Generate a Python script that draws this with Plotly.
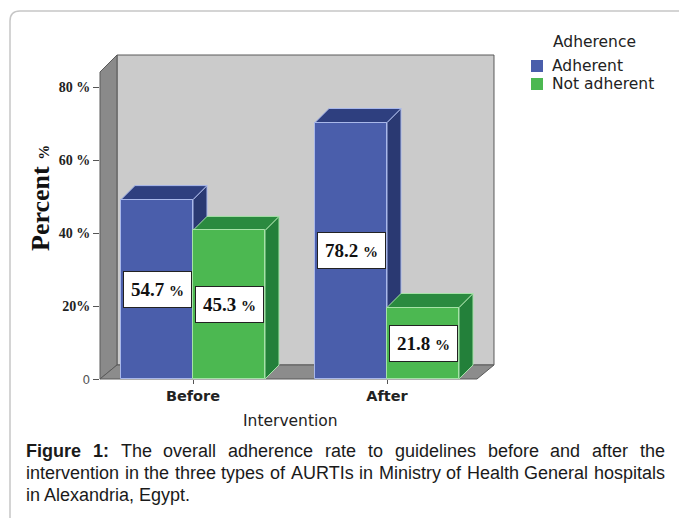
import plotly.graph_objects as go

# ---------------- data ----------------
categories = ["Before", "After"]
adherent = [54.7, 78.2]
not_adherent = [45.3, 21.8]
series_names = ["Adherent", "Not adherent"]
legend_title = "Adherence"
y_tick_values = [0, 22.25, 44.5, 66.75, 89.0]
y_tick_labels = ["<span style='font-family:DejaVu Sans;font-weight:normal;color:#555;font-size:12px'>0</span>",
                 "20%", "40 %", "60 %", "80 %"]

# ---------------- style / geometry ----------------
W, H = 679, 518
FIG_H = 526          # page is captured slightly squeezed vertically; paper fractions stay the same
BLUE_FRONT, BLUE_TOP, BLUE_SIDE, BLUE_EDGE = "#4a5eab", "#2e3f7f", "#2a3972", "#a9b8ea"
GREEN_FRONT, GREEN_TOP, GREEN_SIDE, GREEN_EDGE = "#4cb851", "#2a8a3f", "#23803a", "#a6e2a8"
WALL, WALL_SIDE, FLOOR, WALL_EDGE = "#cbcbcb", "#8a8a8a", "#8c8c8c", "#5a5a5a"
SERIF = "Liberation Serif"
SANS = "Liberation Sans"
WIDE = "DejaVu Sans"

PX_LEFT, PX_RIGHT = 100, 494
PX_BOTTOM, PX_TOP = 379, 55
X0_PX, X_UNIT_PX = 193, 194
Y_UNIT_PX = 3.28
DEPTH = 14
BAR_W = 72 / X_UNIT_PX


def px(x):
    return x / W


def py(y):
    return 1 - y / H


x_range = [(PX_LEFT - X0_PX) / X_UNIT_PX, (PX_RIGHT - X0_PX) / X_UNIT_PX]
y_range = [0, (PX_BOTTOM - PX_TOP) / Y_UNIT_PX]
dx = DEPTH / X_UNIT_PX
dy = DEPTH / Y_UNIT_PX

xs = list(range(len(categories)))

fig = go.Figure()
fig.add_trace(go.Bar(x=xs, y=adherent, name=series_names[0], width=BAR_W, offset=-BAR_W,
                     marker=dict(color=BLUE_FRONT, line=dict(color=BLUE_EDGE, width=1)),
                     hoverinfo="skip"))
fig.add_trace(go.Bar(x=xs, y=not_adherent, name=series_names[1], width=BAR_W, offset=0,
                     marker=dict(color=GREEN_FRONT, line=dict(color=GREEN_EDGE, width=1)),
                     hoverinfo="skip"))

shapes = []


def ppath(points):
    return "M " + " L ".join(f"{px(a):.5f},{py(b):.5f}" for a, b in points) + " Z"


back_bottom = PX_BOTTOM - DEPTH
shapes.append(dict(type="path", xref="paper", yref="paper", layer="below",
                   path=ppath([(PX_LEFT + 17, PX_TOP), (PX_RIGHT, PX_TOP), (PX_RIGHT, back_bottom),
                               (PX_LEFT + 17, back_bottom)]),
                   fillcolor=WALL, line=dict(color=WALL_EDGE, width=1)))
shapes.append(dict(type="path", xref="paper", yref="paper", layer="below",
                   path=ppath([(PX_LEFT, PX_TOP + 17), (PX_LEFT + 17, PX_TOP), (PX_LEFT + 17, back_bottom),
                               (PX_LEFT, PX_BOTTOM)]),
                   fillcolor=WALL_SIDE, line=dict(color=WALL_EDGE, width=1)))
shapes.append(dict(type="path", xref="paper", yref="paper", layer="below",
                   path=ppath([(PX_LEFT, PX_BOTTOM), (PX_LEFT + 17, back_bottom), (PX_RIGHT, back_bottom),
                               (PX_RIGHT - 17, PX_BOTTOM)]),
                   fillcolor=FLOOR, line=dict(color=WALL_EDGE, width=1)))


def dpath(points):
    return "M " + " L ".join(f"{a:.5f},{b:.5f}" for a, b in points) + " Z"


for vals, off, top_c, side_c, edge_c in [(adherent, -BAR_W, BLUE_TOP, BLUE_SIDE, BLUE_EDGE),
                                         (not_adherent, 0, GREEN_TOP, GREEN_SIDE, GREEN_EDGE)]:
    for xi, v in zip(xs, vals):
        x0 = xi + off
        x1 = x0 + BAR_W
        shapes.append(dict(type="path", xref="x", yref="y", layer="below",
                           path=dpath([(x1, 0), (x1, v), (x1 + dx, v + dy), (x1 + dx, dy)]),
                           fillcolor=side_c, line=dict(color=edge_c, width=1)))
        shapes.append(dict(type="path", xref="x", yref="y", layer="below",
                           path=dpath([(x0, v), (x1, v), (x1 + dx, v + dy), (x0 + dx, v + dy)]),
                           fillcolor=top_c, line=dict(color=edge_c, width=1)))

shapes.append(dict(type="path", xref="paper", yref="paper", layer="below",
                   path=f"M {px(10)},{py(560)} L {px(10)},{py(21)} Q {px(10)},{py(11)} {px(20)},{py(11)} L {px(700)},{py(11)}",
                   line=dict(color="#c6c6c6", width=1.5)))

annotations = []
for vals, off in [(adherent, -BAR_W / 2), (not_adherent, BAR_W / 2)]:
    for xi, v in zip(xs, vals):
        annotations.append(dict(x=xi + off, y=v / 2, xref="x", yref="y", showarrow=False,
                                xanchor="center", yanchor="middle",
                                text=f"<b>{v:.1f} <span style='font-size:15px'>%</span></b>",
                                font=dict(family=SERIF, size=19, color="#111"),
                                bgcolor="white", bordercolor="#222", borderwidth=1, borderpad=7))

annotations.append(dict(x=px(40), y=py(198), xref="paper", yref="paper", showarrow=False,
                        xanchor="center", yanchor="middle", textangle=-90,
                        text="<b>Percent</b> <span style='font-size:15px'><b>%</b></span>",
                        font=dict(family=SERIF, size=26, color="#111")))

annotations.append(dict(x=px(290), y=py(421), xref="paper", yref="paper", showarrow=False,
                        xanchor="center", yanchor="middle", text="Intervention",
                        font=dict(family=WIDE, size=15.5, color="#222")))

# ---------------- legend (drawn as text + swatches to match the compact spacing) ----------------
LEG_FONT = dict(family=WIDE, size=15.5, color="#222")
annotations.append(dict(x=px(594), y=py(42), xref="paper", yref="paper", showarrow=False,
                        xanchor="center", yanchor="middle", text=legend_title, font=LEG_FONT))
for i, (name, col) in enumerate(zip(series_names, [BLUE_FRONT, GREEN_FRONT])):
    yc = 66 + 18 * i
    shapes.append(dict(type="rect", xref="paper", yref="paper",
                       x0=px(531), x1=px(543), y0=py(yc + 6), y1=py(yc - 6),
                       fillcolor=col, line=dict(width=0)))
    annotations.append(dict(x=px(552), y=py(yc), xref="paper", yref="paper", showarrow=False,
                            xanchor="left", yanchor="middle", borderpad=0, borderwidth=0,
                            text=name, font=LEG_FONT))

# ---------------- caption (justified, word by word) ----------------
ARIAL = {" ": .278, "a": .556, "b": .556, "c": .5, "d": .556, "e": .556, "f": .278, "g": .556,
         "h": .556, "i": .222, "j": .222, "k": .5, "l": .222, "m": .833, "n": .556, "o": .556,
         "p": .556, "q": .556, "r": .333, "s": .5, "t": .278, "u": .556, "v": .5, "w": .722,
         "x": .5, "y": .5, "z": .5, "A": .667, "E": .667, "G": .778, "H": .722, "I": .278,
         "M": .833, "R": .722, "T": .611, "U": .722, "1": .556, ":": .278, ",": .278, ".": .278}
ARIAL_BOLD = {"F": .611, "i": .278, "g": .611, "u": .611, "r": .389, "e": .556, "1": .556, ":": .333}
CAP_SIZE = 18
CAP_LEFT, CAP_RIGHT = 26, 665


def text_w(word, bold):
    table = ARIAL_BOLD if bold else ARIAL
    return sum(table.get(ch, .556) for ch in word) * CAP_SIZE


caption_lines = [
    ("<b>Figure 1:</b> The overall adherence rate to guidelines before and after the", True),
    ("intervention in the three types of AURTIs in Ministry of Health General hospitals", True),
    ("in Alexandria, Egypt.", False),
]
for li, (line, justify) in enumerate(caption_lines):
    yc = py(451 + 22 * li)
    words = []
    bold_on = False
    for tok in line.split(" "):
        b = tok.startswith("<b>") or bold_on
        clean = tok.replace("<b>", "").replace("</b>", "")
        bold_on = (tok.startswith("<b>") or bold_on) and not tok.endswith("</b>")
        words.append((clean, b))
    if justify:
        total = sum(text_w(w, b) for w, b in words)
        gap = (CAP_RIGHT - CAP_LEFT - total) / (len(words) - 1)
        xcur = CAP_LEFT
        for w, b in words:
            annotations.append(dict(x=px(xcur), y=yc, xref="paper", yref="paper", showarrow=False,
                                    xanchor="left", yanchor="middle", borderpad=0, borderwidth=0,
                                    text=f"<b>{w}</b>" if b else w,
                                    font=dict(family=SANS, size=CAP_SIZE, color="#1a1a1a")))
            xcur += text_w(w, b) + gap
    else:
        annotations.append(dict(x=px(CAP_LEFT), y=yc, xref="paper", yref="paper", showarrow=False,
                                xanchor="left", yanchor="middle", borderpad=0, borderwidth=0,
                                text=line, font=dict(family=SANS, size=CAP_SIZE, color="#1a1a1a")))

fig.update_layout(
    width=W, height=FIG_H, autosize=False,
    margin=dict(l=0, r=0, t=0, b=0),
    paper_bgcolor="white", plot_bgcolor="rgba(0,0,0,0)",
    showlegend=False,
    xaxis=dict(domain=[px(PX_LEFT), px(PX_RIGHT)], range=x_range,
               tickvals=xs, ticktext=categories, showgrid=False, zeroline=False,
               showline=False, ticks="outside", ticklen=4, tickcolor="#555",
               tickfont=dict(family=WIDE, size=14.5, color="#222", weight="bold")),
    yaxis=dict(domain=[py(PX_BOTTOM), py(PX_TOP)], range=y_range,
               tickvals=y_tick_values, ticktext=y_tick_labels, showgrid=False,
               zeroline=False, showline=False, ticks="outside", ticklen=6, tickcolor="#555",
               tickfont=dict(family=SERIF, size=14, color="#222", weight="bold")),
    shapes=shapes, annotations=annotations,
    bargap=0, barmode="overlay",
)

fig.write_html("out.html", config={"displayModeBar": False},
               post_script="document.body.style.margin='0px';document.body.style.overflow='hidden';")
